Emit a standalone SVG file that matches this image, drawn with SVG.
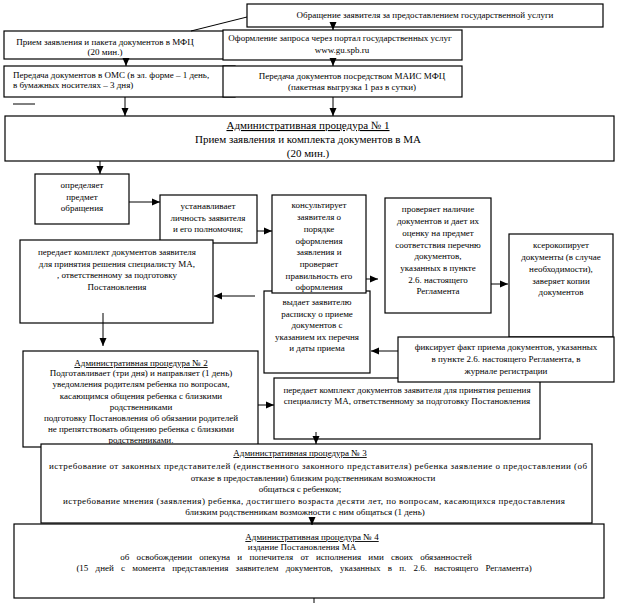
<svg xmlns="http://www.w3.org/2000/svg" width="628" height="603" viewBox="0 0 628 603">
<defs>
<style>
.b{fill:#fff;stroke:#000;stroke-width:1.2}
.t{font-family:"Liberation Serif","Times New Roman",serif;font-size:9px;fill:#000;text-anchor:middle}
.l{text-anchor:start}
.big{font-size:11px}
.u{text-decoration:underline}
.ws{word-spacing:5px}
.c{stroke:#000;stroke-width:1;fill:none}
.a{marker-end:url(#ar)}
</style>
<marker id="ar" viewBox="0 0 8 8" refX="8" refY="4" markerWidth="8" markerHeight="8" markerUnits="userSpaceOnUse" orient="auto">
<path d="M0,0.5 L8,4 L0,7.5 Z" fill="#000"/>
</marker>
</defs>
<rect width="628" height="603" fill="#fff"/>

<g id="n_obr">
<rect class="b" x="247" y="4" width="356" height="23"/>
<text class="t" x="425" y="18">Обращение заявителя за предоставлением государственной услуги</text>
</g>
<g id="n_mfc">
<rect class="b" x="4" y="31" width="231" height="28"/>
<text class="t" x="105" y="45">Прием заявления и пакета документов в МФЦ</text>
<text class="t" x="105" y="55">(20 мин.)</text>
</g>
<g id="n_oms">
<rect class="b" x="4" y="66" width="231" height="31"/>
<text class="t l" x="13" y="78">Передача документов в ОМС (в эл. форме – 1 день,</text>
<text class="t l" x="13" y="88">в бумажных носителях – 3 дня)</text>
</g>
<g id="n_portal">
<rect class="b" x="223" y="30" width="239" height="30"/>
<text class="t" x="340" y="41">Оформление запроса через портал государственных услуг</text>
<text class="t" x="342" y="53">www.gu.spb.ru</text>
</g>
<g id="n_mais">
<rect class="b" x="223" y="66" width="239" height="31"/>
<text class="t" x="352" y="79">Передача документов посредством МАИС МФЦ</text>
<text class="t" x="352" y="90">(пакетная  выгрузка 1 раз в сутки)</text>
</g>
<g id="n_ap1">
<rect class="b" x="5" y="116" width="609" height="45"/>
<text class="t big u" x="308" y="129">Административная процедура № 1</text>
<text class="t big" x="308" y="143">Прием заявления и комплекта документов в МА</text>
<text class="t big" x="308" y="157">(20 мин.)</text>
</g>
<g id="n_opr">
<rect class="b" x="35" y="174" width="94" height="50"/>
<text class="t" x="82" y="188">определяет</text>
<text class="t" x="82" y="200">предмет</text>
<text class="t" x="82" y="211">обращения</text>
</g>
<g id="n_ust">
<rect class="b" x="160" y="195" width="97" height="48"/>
<text class="t" x="208" y="209">устанавливает</text>
<text class="t" x="208" y="221">личность  заявителя</text>
<text class="t" x="208" y="232">и его полномочия;</text>
</g>
<g id="n_per1">
<rect class="b" x="20" y="240" width="193" height="83"/>
<text class="t" x="117" y="255">передает  комплект  документов  заявителя</text>
<text class="t" x="117" y="267">для  принятия  решения  специалисту  МА,</text>
<text class="t" x="117" y="278">,  ответственному  за подготовку</text>
<text class="t" x="117" y="290">Постановления</text>
</g>
<g id="n_vyd">
<rect class="b" x="264" y="291" width="106" height="82"/>
<text class="t" x="317" y="305">выдает  заявителю</text>
<text class="t" x="317" y="317">расписку  о приеме</text>
<text class="t" x="317" y="328">документов  с</text>
<text class="t" x="317" y="340">указанием  их перечня</text>
<text class="t" x="317" y="351">и даты  приема</text>
</g>
<g id="n_kons">
<rect class="b" x="272" y="195" width="94" height="98"/>
<text class="t" x="319" y="208">консультирует</text>
<text class="t" x="319" y="220">заявителя  о</text>
<text class="t" x="319" y="232">порядке</text>
<text class="t" x="319" y="244">оформления</text>
<text class="t" x="319" y="255">заявления  и</text>
<text class="t" x="319" y="267">проверяет</text>
<text class="t" x="319" y="279">правильность  его</text>
<text class="t" x="319" y="290">оформления</text>
</g>
<g id="n_prov">
<rect class="b" x="385" y="198" width="106" height="115"/>
<text class="t" x="438" y="212">проверяет  наличие</text>
<text class="t" x="438" y="224">документов  и дает их</text>
<text class="t" x="438" y="236">оценку  на предмет</text>
<text class="t" x="438" y="248">соответствия  перечню</text>
<text class="t" x="438" y="259">документов,</text>
<text class="t" x="438" y="271">указанных  в пункте</text>
<text class="t" x="438" y="283">2.6.  настоящего</text>
<text class="t" x="438" y="294">Регламента</text>
</g>
<g id="n_kser">
<rect class="b" x="509" y="234" width="104" height="103"/>
<text class="t" x="561" y="248">ксерокопирует</text>
<text class="t" x="561" y="260">документы  (в случае</text>
<text class="t" x="561" y="272">необходимости),</text>
<text class="t" x="561" y="284">заверяет копии</text>
<text class="t" x="561" y="295">документов</text>
</g>
<g id="n_per2">
<rect class="b" x="274" y="378" width="266" height="61"/>
<text class="t" x="407" y="393">передает комплект документов заявителя для принятия решения</text>
<text class="t" x="407" y="404">специалисту МА, ответственному за подготовку Постановления</text>
</g>
<g id="n_fix">
<rect class="b" x="398" y="337" width="216" height="45"/>
<text class="t" x="506" y="350">фиксирует  факт приема  документов,  указанных</text>
<text class="t" x="506" y="362">в пункте  2.6.  настоящего  Регламента,  в</text>
<text class="t" x="506" y="374">журнале  регистрации</text>
</g>
<g id="n_ap2">
<rect class="b" x="23" y="351" width="235" height="96"/>
<text class="t u" x="141" y="366">Административная  процедура  № 2</text>
<text class="t" x="141" y="376">Подготавливает  (три дня)  и направляет  (1 день)</text>
<text class="t" x="141" y="387">уведомления  родителям  ребенка  по вопросам,</text>
<text class="t" x="141" y="399">касающимся  общения  ребенка  с близкими</text>
<text class="t" x="141" y="410">родственниками</text>
<text class="t" x="141" y="421">подготовку Постановления  об обязании  родителей</text>
<text class="t" x="141" y="432">не  препятствовать  общению  ребенка  с близкими</text>
<text class="t" x="141" y="443">родственниками.</text>
</g>
<g id="n_ap3">
<rect class="b" x="41" y="444" width="551" height="79"/>
<text class="t u" x="300" y="456">Административная  процедура  № 3</text>
<text class="t" x="318" y="469" textLength="538" lengthAdjust="spacing">истребование  от законных представителей  (единственного  законного  представителя)  ребенка  заявление о предоставлении  (об</text>
<text class="t" x="313" y="481">отказе в предоставлении)  близким  родственникам  возможности</text>
<text class="t" x="300" y="492">общаться  с ребенком;</text>
<text class="t" x="314" y="504" textLength="502" lengthAdjust="spacing">истребование  мнения  (заявления)  ребенка,  достигшего  возраста  десяти  лет,  по вопросам,  касающихся  предоставления</text>
<text class="t" x="305" y="515">близким  родственникам  возможности  с ним  общаться  (1 день)</text>
</g>
<g id="n_ap4">
<rect class="b" x="14" y="524" width="590" height="74"/>
<text class="t u" x="312" y="540">Административная  процедура  № 4</text>
<text class="t" x="302" y="550">издание  Постановления  МА</text>
<text class="t ws" x="296" y="560">об освобождении опекуна и попечителя от исполнения ими своих обязанностей</text>
<text class="t ws" x="304" y="571">(15 дней с момента представления заявителем документов, указанных в п. 2.6. настоящего Регламента)</text>
</g>

<g id="connectors">
<line class="c" x1="247" y1="17" x2="191" y2="31"/>
<line class="c a" x1="333" y1="27" x2="333" y2="30"/>
<line class="c a" x1="126" y1="59" x2="126" y2="66"/>
<line class="c a" x1="333" y1="60" x2="333" y2="66"/>
<line class="c a" x1="125" y1="97" x2="125" y2="116"/>
<line class="c a" x1="333" y1="97" x2="333" y2="116"/>
<line class="c" x1="13" y1="104" x2="35" y2="104"/>
<line class="c a" x1="100" y1="161" x2="100" y2="174"/>
<line class="c a" x1="129" y1="202" x2="160" y2="202"/>
<line class="c a" x1="257" y1="231" x2="272" y2="231"/>
<line class="c a" x1="366" y1="279" x2="378" y2="279"/>
<line class="c a" x1="491" y1="284" x2="508" y2="284"/>
<line class="c a" x1="255" y1="296" x2="214" y2="296"/>
<line class="c a" x1="103" y1="313" x2="103" y2="346"/>
<line class="c a" x1="398" y1="351" x2="371" y2="351"/>
<line class="c a" x1="258" y1="405" x2="274" y2="405"/>
<line class="c a" x1="316" y1="432" x2="316" y2="444"/>
<line class="c a" x1="312" y1="517" x2="312" y2="525"/>
<line class="c" x1="314" y1="598" x2="314" y2="603"/>
</g>
</svg>
